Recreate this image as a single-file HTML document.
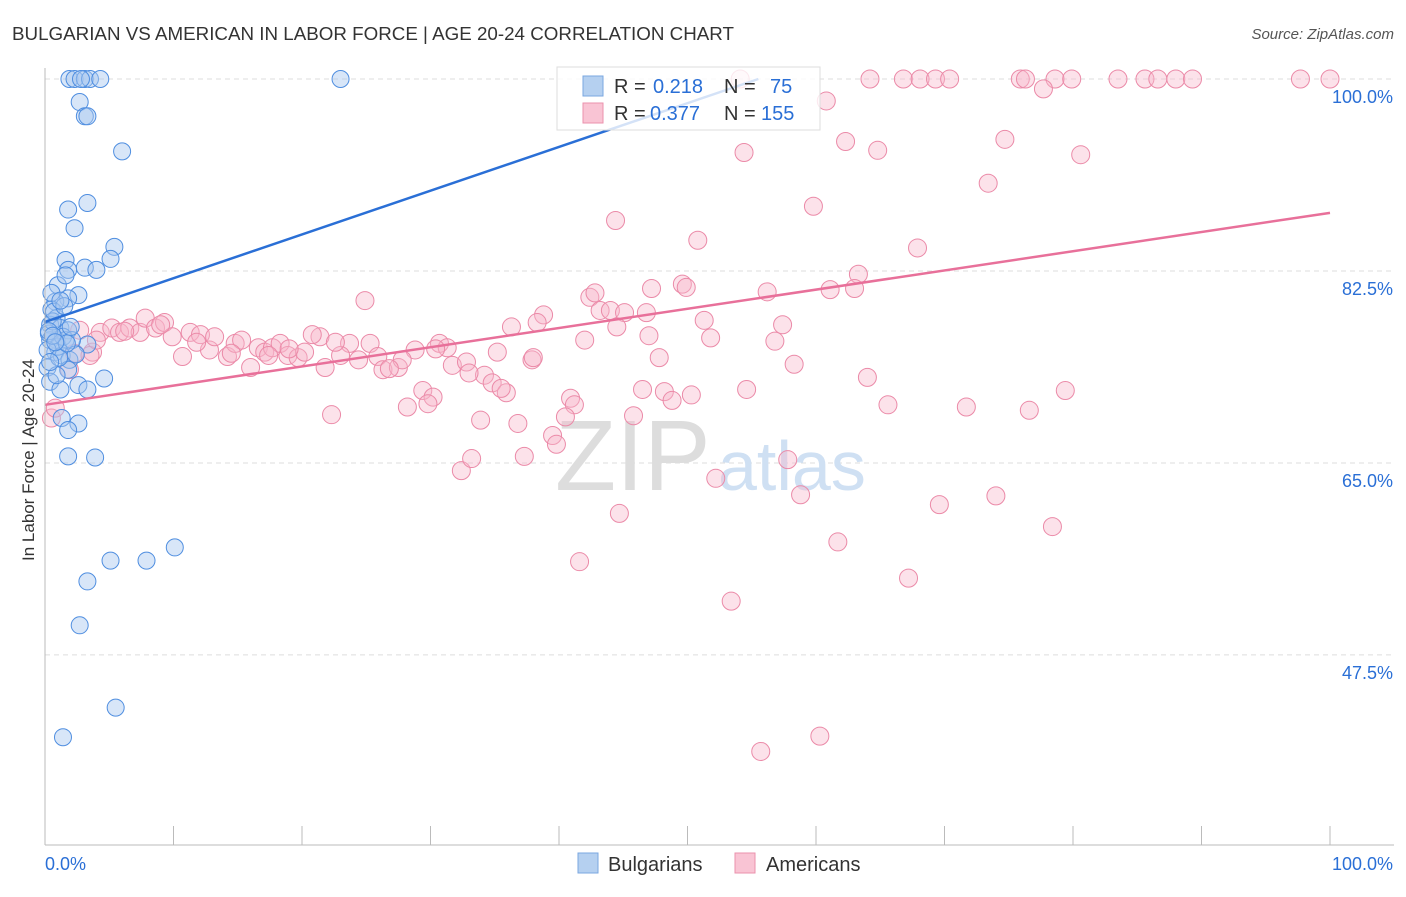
<!DOCTYPE html>
<html><head><meta charset="utf-8"><style>
body{margin:0;background:#fff;font-family:"Liberation Sans",sans-serif;}
svg text{font-family:"Liberation Sans",sans-serif;}
</style></head><body>
<svg id="chart" width="1406" height="892" xmlns="http://www.w3.org/2000/svg">
<text x="12" y="40" font-size="18" fill="#333" textLength="722" lengthAdjust="spacingAndGlyphs">BULGARIAN VS AMERICAN IN LABOR FORCE | AGE 20-24 CORRELATION CHART</text>
<text x="1394" y="39" font-size="15" fill="#555" text-anchor="end" font-style="italic">Source: ZipAtlas.com</text>
<g id="grid"></g>
<text x="555" y="490" font-size="100" fill="#ddd" font-family="Liberation Serif">ZIP</text>
<text x="718" y="490" font-size="70" fill="#cfe0f3">atlas</text>
<g id="pts"></g>
<g id="lines"></g>
<g id="axes"></g>
<text x="34" y="460" font-size="17" fill="#333" text-anchor="middle" transform="rotate(-90 34 460)">In Labor Force | Age 20-24</text>
<g>
<rect x="557" y="67" width="263" height="63" fill="#fff" fill-opacity="0.8" stroke="#ddd"/>
<rect x="583" y="76" width="20" height="20" fill="#b5d0f0" stroke="#7aa7e0"/>
<rect x="583" y="103" width="20" height="20" fill="#f9c4d4" stroke="#eb92ad"/>
<text y="93" font-size="20" fill="#333"><tspan x="614">R =</tspan><tspan x="653" fill="#2a6fd6">0.218</tspan><tspan x="724">N =</tspan><tspan x="770" fill="#2a6fd6">75</tspan></text>
<text y="120" font-size="20" fill="#333"><tspan x="614">R =</tspan><tspan x="650" fill="#2a6fd6">0.377</tspan><tspan x="724">N =</tspan><tspan x="761" fill="#2a6fd6">155</tspan></text>
</g>
<g>
<rect x="578" y="853" width="20" height="20" fill="#b5d0f0" stroke="#7aa7e0"/>
<text x="608" y="871" font-size="20" fill="#333">Bulgarians</text>
<rect x="735" y="853" width="20" height="20" fill="#f9c4d4" stroke="#eb92ad"/>
<text x="766" y="871" font-size="20" fill="#333">Americans</text>
</g>
</svg>
<script>
const yTicks=[100,82.5,65,47.5];
const yTickLabels=["100.0%","82.5%","65.0%","47.5%"];
const blueX=[1.9,2.3,3.1,3.5,4.3,23,2.7,3.1,3.3,6,3.3,1.8,2.3,5.4,5.1,1.6,1.8,3.1,4,1,2.6,1.8,0.8,0.5,0.9,0.4,1.2,1.8,0.4,0.9,1.6,3.3,0.8,1.3,1.9,0.2,1.8,4.6,0.4,2.6,1.2,3.3,1.3,2.6,1.8,1.8,3.9,5.1,7.9,10.1,3.3,2.7,5.5,1.4,0.3,0.6,1.0,1.4,0.2,0.7,2.1,1.1,0.5,1.5,2.4,0.3,0.9,1.7,0.6,2.0,1.2,0.4,0.8,2.8,1.6];
const blueY=[100,100,100,100,100,100,97.9,96.6,96.6,93.4,88.7,88.1,86.4,84.7,83.6,83.5,82.6,82.8,82.6,81.2,80.3,80,79.7,79,78.2,77.6,77.3,77.1,76.2,76.2,76.2,75.8,75.1,74.8,74.4,73.7,73.5,72.7,72.4,72.1,71.7,71.7,69.1,68.6,68,65.6,65.5,56.1,56.1,57.3,54.2,50.2,42.7,40,76.8,77.9,75.6,76.5,75.3,78.8,76.2,74.6,80.5,79.3,74.9,77.0,73.0,75.9,76.6,77.4,79.8,74.2,76.0,100,82.1];
const pinkX=[54.1,64.2,66.8,68.1,69.3,70.4,75.9,76.3,78.6,79.9,83.5,85.6,86.6,88,89.3,97.7,100,60.8,77.7,54.4,62.3,64.8,74.7,80.6,73.4,59.8,44.4,50.8,67.9,63.3,61.1,63,49.6,49.9,47.2,56.2,42.4,42.8,43.2,44,45.1,46.8,38.8,38.3,36.3,51.3,57.4,51.8,56.8,24.9,21.4,20.8,23.7,25.3,28.8,30.7,31.3,35.2,37.9,31.7,32.8,34.2,34.8,35.9,40.9,41.2,40.5,39.5,39.8,36.8,33.9,29.4,30.2,28.2,29.8,22.3,32.4,33.2,37.3,44.7,41.6,47.8,46.5,48.2,48.8,50.3,45.8,54.6,58.3,64,65.6,71.7,76.6,79.4,52.2,57.8,58.8,61.7,69.6,74,78.4,67.2,53.4,55.7,60.3,0.5,0.8,2.7,3.7,4.3,5.2,5.8,6.6,7.4,7.8,8.6,9.3,9.9,10.7,11.3,12.1,12.8,13.2,14.2,14.8,15.3,16,16.6,17.1,17.7,18.3,18.9,19.7,20.2,21.8,23,24.4,25.9,26.3,27.5,27.8,1.9,2.3,3.5,4.0,6.2,9.0,11.8,14.5,17.4,19.0,22.6,26.8,30.4,33.0,35.5,38.0,42.0,44.5,47.0];
const pinkY=[100,100,100,100,100,100,100,100,100,100,100,100,100,100,100,100,100,98,99.1,93.3,94.3,93.5,94.5,93.1,90.5,88.4,87.1,85.3,84.6,82.2,80.8,80.9,81.3,81,80.9,80.6,80.1,80.5,78.9,78.9,78.7,78.7,78.5,77.8,77.4,78,77.6,76.4,76.1,79.8,76.5,76.7,75.9,75.9,75.3,75.9,75.5,75.1,74.4,73.9,74.2,73,72.3,71.4,70.9,70.3,69.2,67.5,66.7,68.6,68.9,71.6,71,70.1,70.4,69.4,64.3,65.4,65.6,60.4,56,74.6,71.7,71.5,70.7,71.2,69.3,71.7,74,72.8,70.3,70.1,69.8,71.6,63.6,65.3,62.1,57.8,61.2,62,59.2,54.5,52.4,38.7,40.1,69.1,70,77.1,75.1,76.9,77.3,76.9,77.3,76.9,78.2,77.3,77.8,76.5,74.7,76.9,76.7,75.3,76.5,74.7,75.9,76.2,73.7,75.5,75.1,75.5,75.9,74.8,74.6,75.1,73.7,74.8,74.4,74.7,73.5,73.7,74.4,73.5,75,74.8,76.2,77.0,77.6,76.0,75.0,74.8,75.4,76.0,73.6,75.4,73.2,71.8,74.6,76.2,77.4,76.6];
const blueFit=[77.85,0.399];
const pinkFit=[70.3,0.175];
const X0=45,X1=1330,YT=79,PXPER=10.97;
const sx=v=>X0+(X1-X0)*v/100;
const sy=v=>YT+(100-v)*PXPER;
const NS="http://www.w3.org/2000/svg";
function mk(tag,attrs,parent){const e=document.createElementNS(NS,tag);for(const k in attrs)e.setAttribute(k,attrs[k]);parent.appendChild(e);return e;}
const grid=document.getElementById('grid'),axes=document.getElementById('axes'),pts=document.getElementById('pts'),lines=document.getElementById('lines');
yTicks.forEach((t,i)=>{
 const l=mk('line',{x1:X0,x2:1394,y1:sy(t),y2:sy(t),stroke:'#ddd','stroke-dasharray':'5,4'},grid);
 
 
 const tx=mk('text',{x:1393,y:sy(t)+24,'font-size':18,fill:'#2a6fd6','text-anchor':'end'},axes);
 tx.textContent=yTickLabels[i];
 
 
});
const ax=mk('line',{x1:X0,x2:1394,y1:845,y2:845,stroke:'#bbb'},axes);


const ay=mk('line',{x1:X0,x2:X0,y1:68,y2:845,stroke:'#bbb'},axes);


for(let i=0;i<=10;i++){const t=mk('line',{x1:sx(i*10),x2:sx(i*10),y1:826,y2:845,stroke:'#bbb'},axes);
 
 }
[[0,"0.0%","start",45],[100,"100.0%","end",1393]].forEach(a=>{const t=mk('text',{x:a[3],y:870,'font-size':18,fill:'#2a6fd6','text-anchor':a[2]},axes);t.textContent=a[1];
 
 });
pinkX.forEach((v,i)=>{const c=mk('circle',{cx:sx(v),cy:sy(pinkY[i]),r:9,fill:'#f7b6ca','fill-opacity':0.4,stroke:'#eb8aa8','stroke-width':1},pts);
 
 });
blueX.forEach((v,i)=>{const c=mk('circle',{cx:sx(v),cy:sy(blueY[i]),r:8.5,fill:'#a9c8ef','fill-opacity':0.45,stroke:'#4f8ee0','stroke-width':1},pts);
 
 });
const bx2=(100-blueFit[0])/blueFit[1];
const bl=mk('line',{x1:sx(0),y1:sy(blueFit[0]),x2:sx(bx2),y2:sy(100),stroke:'#2a6fd6','stroke-width':2.5},lines);


const pl=mk('line',{x1:sx(0),y1:sy(pinkFit[0]),x2:sx(100),y2:sy(pinkFit[0]+100*pinkFit[1]),stroke:'#e8709a','stroke-width':2.5},lines);


</script>
</body></html>
